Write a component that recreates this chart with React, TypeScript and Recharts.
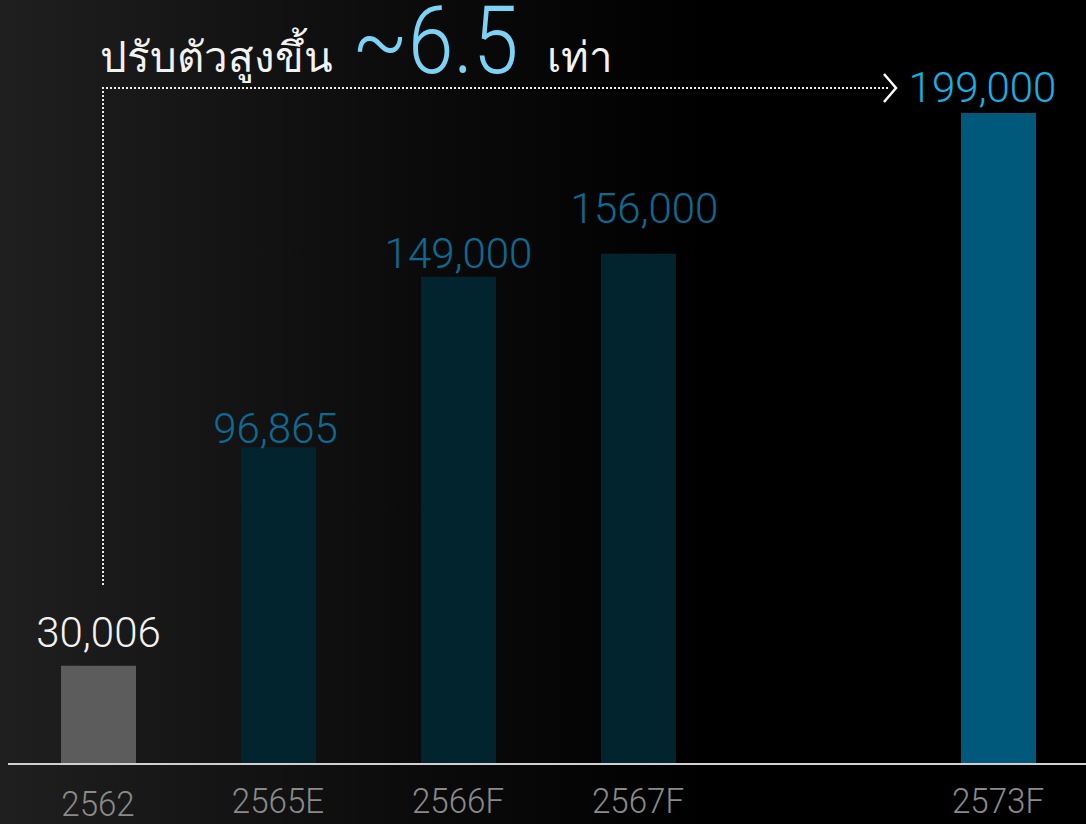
import { BarChart, Bar, XAxis, YAxis, Cell, LabelList } from "recharts";

const years = ["2562", "2565E", "2566F", "2567F", " ", "2573F"];
const volumes = [30006, 96865, 149000, 156000, null, 199000];
const barColors = ["#5c5c5c", "#01242f", "#01242f", "#01242f", "#000000", "#00587a"];
const labelColors = ["#f2f2f2", "#0d6a92", "#0d6a92", "#0d6a92", "#000000", "#16b1e6"];
// lift above bar top (px) and sideways nudge for each value label
const labelLift = [19, 4, 9, 31, 0, 11];
const labelShift = [0, -3, 0, 6, 0, -16];

const data = years.map((year, i) => ({ year, value: volumes[i] }));

const FONT = "Roboto, 'DejaVu Sans', sans-serif";

function ValueLabel(props: any) {
  const { x, y, width, value } = props;
  if (value == null) return null;
  // LabelList skips the empty slot, so look the entry up by its value
  const i = volumes.indexOf(Number(value));
  const cx = x + width / 2 + labelShift[i];
  const by = y - labelLift[i];
  return (
    <text
      x={cx}
      y={by}
      textAnchor="middle"
      fill={labelColors[i]}
      fontSize={42}
      fontWeight={300}
      fontFamily={FONT}
    >
      {Number(value).toLocaleString("en-US")}
    </text>
  );
}

function YearTick(props: any) {
  const { x, y, payload } = props;
  const drop = payload.value === "2562" ? 44 : 41;
  return (
    <text
      transform={`translate(${x},${y + drop}) scale(0.92,1)`}
      textAnchor="middle"
      fill="#8a8a8a"
      fontSize={36}
      fontWeight={300}
      fontFamily={FONT}
    >
      {payload.value.trim()}
    </text>
  );
}

export default function App() {
  return (
    <div
      style={{
        position: "absolute",
        left: 0,
        top: 0,
        width: 1086,
        height: 824,
        overflow: "hidden",
        background: "linear-gradient(90deg, #1f1f1f 0%, #0b0b0b 38%, #000 65%)",
      }}
    >
      <BarChart
        width={1088}
        height={824}
        data={data}
        margin={{ top: 13, right: 0, left: 8, bottom: 0 }}
        barCategoryGap={0}
      >
        <XAxis
          dataKey="year"
          height={60}
          axisLine={{ stroke: "#d0d0d0", strokeWidth: 2 }}
          tickLine={false}
          interval={0}
          tick={<YearTick />}
        />
        <YAxis hide domain={[0, 229600]} />
        <Bar dataKey="value" barSize={75} isAnimationActive={false}>
          {data.map((d, i) => (
            <Cell key={d.year + i} fill={barColors[i]} />
          ))}
          <LabelList dataKey="value" content={<ValueLabel />} />
        </Bar>
      </BarChart>
      <svg
        width={1086}
        height={824}
        style={{ position: "absolute", left: 0, top: 0, pointerEvents: "none" }}
      >
        <text x={100} y={72} fill="#f2f2f2" fontSize={42} fontWeight={300} fontFamily={FONT}>
          ปรับตัวสูงขึ้น
        </text>
        <text
          transform="translate(352,73) scale(0.87,1)"
          fill="#7dd3f5"
          fontSize={94}
          fontWeight={300}
          fontFamily={FONT}
        >
          ~6.5
        </text>
        <text x={547} y={72} fill="#f2f2f2" fontSize={42} fontWeight={300} fontFamily={FONT}>
          เท่า
        </text>
        <path
          d="M103 585 V88 H890"
          fill="none"
          stroke="#eeeeee"
          strokeWidth={2}
          strokeDasharray="2 2"
        />
        <path d="M884 74 L896 88 L884 102" fill="none" stroke="#ffffff" strokeWidth={2.5} />
      </svg>
    </div>
  );
}
